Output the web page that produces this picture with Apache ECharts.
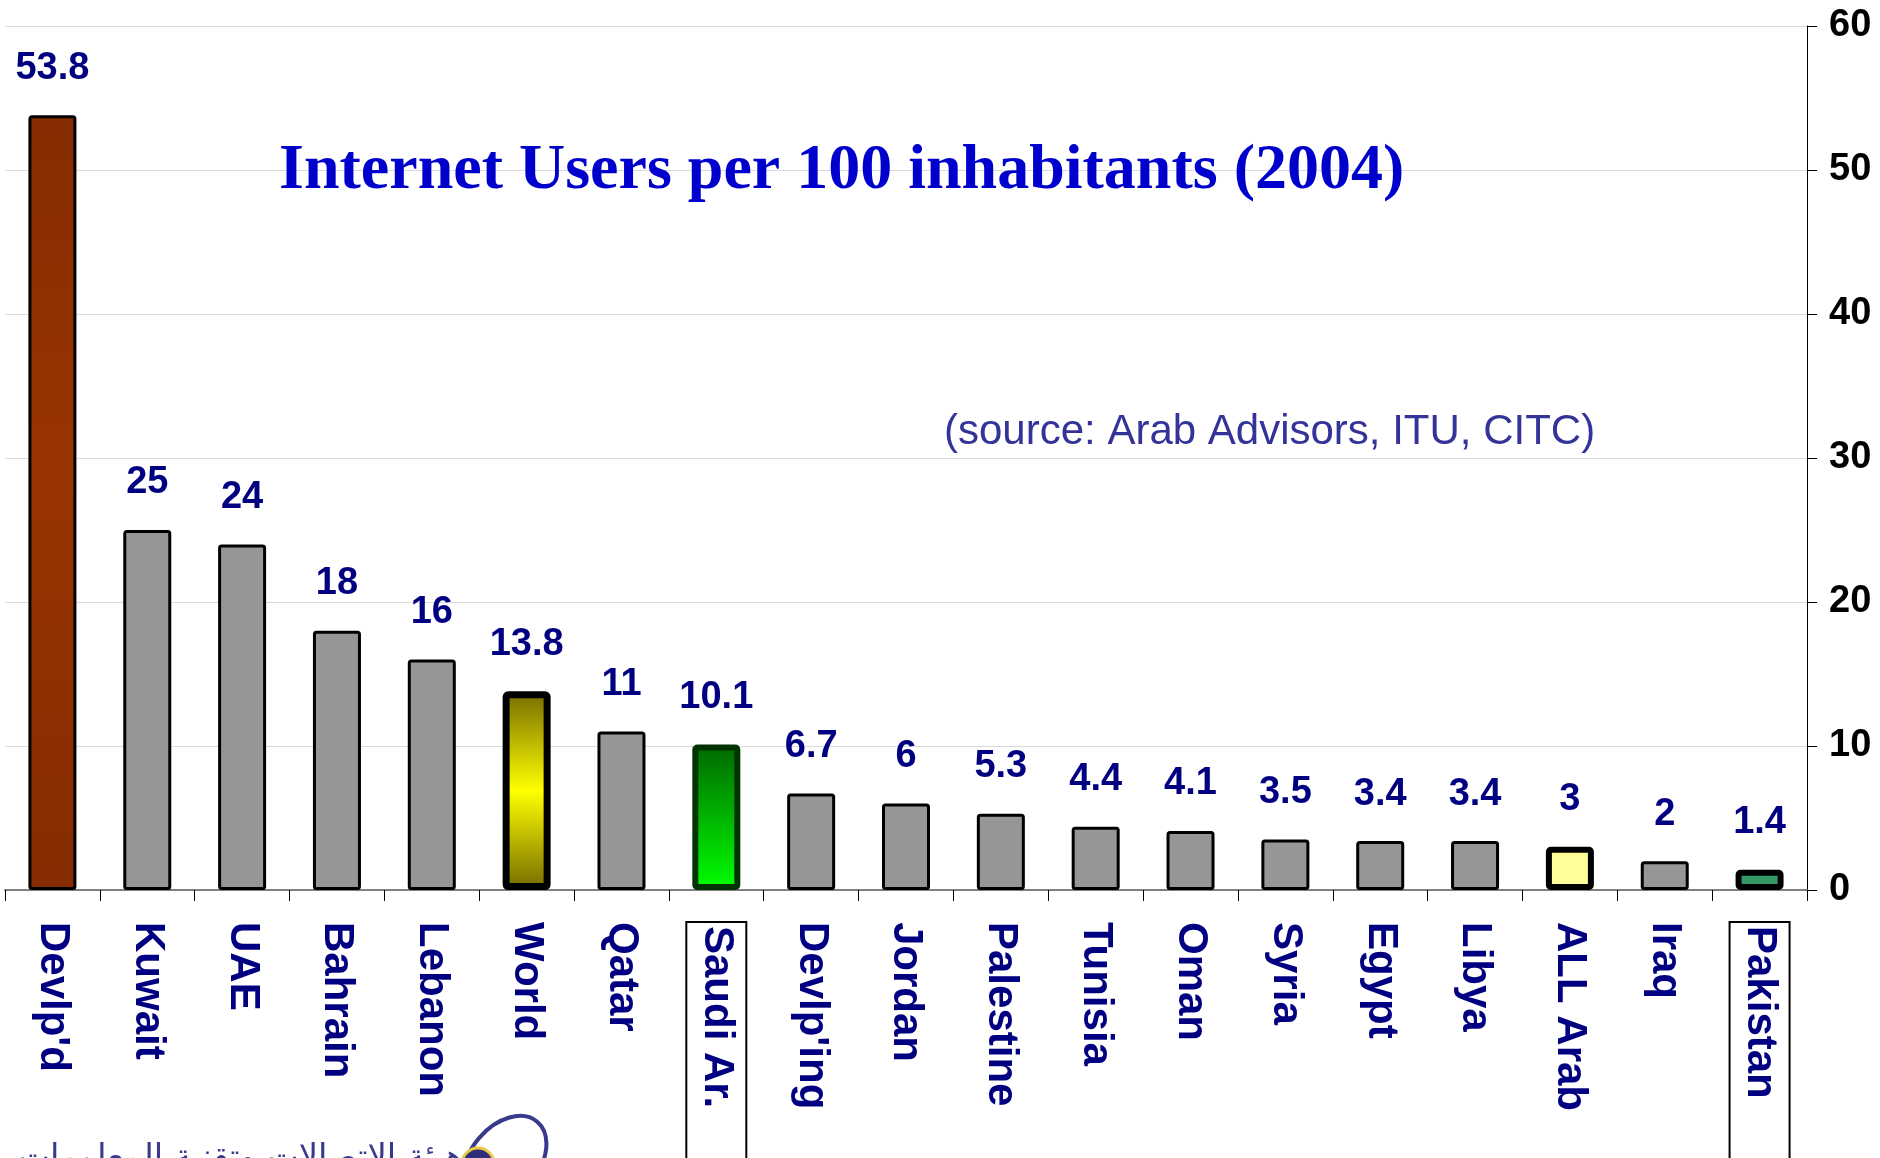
<!DOCTYPE html>
<html>
<head>
<meta charset="utf-8">
<script src="https://cdn.jsdelivr.net/npm/echarts@6/dist/echarts.min.js"></script>
<style>
  html, body { margin: 0; padding: 0; background: #fff; }
  #main { width: 1880px; height: 1158px; }
</style>
</head>
<body>
<div id="main"></div>
<script>
// data
var categories = ["Devlp'd", 'Kuwait', 'UAE', 'Bahrain', 'Lebanon', 'World', 'Qatar', 'Saudi Ar.', "Devlp'ing",
  'Jordan', 'Palestine', 'Tunisia', 'Oman', 'Syria', 'Egypt', 'Libya', 'ALL Arab', 'Iraq', 'Pakistan'];
var values = [53.8, 25, 24, 18, 16, 13.8, 11, 10.1, 6.7, 6, 5.3, 4.4, 4.1, 3.5, 3.4, 3.4, 3, 2, 1.4];
var yTicks = [0, 10, 20, 30, 40, 50, 60];
var boxedLabels = ['Saudi Ar.', 'Pakistan'];

var SANS = "'Liberation Sans', Arial, sans-serif";
var SERIF = "'Liberation Serif', 'Times New Roman', serif";
var NAVY = '#000080';

function grad(stops) {
  return new echarts.graphic.LinearGradient(0, 0, 0, 1, stops.map(function (s) {
    return { offset: s[0], color: s[1] };
  }));
}

// special bars, everything else is plain grey
function styleFor(name) {
  switch (name) {
    case "Devlp'd":
      return { color: grad([[0, '#842c00'], [0.45, '#9a3400'], [1, '#842c00']]), borderColor: '#000', borderWidth: 3 };
    case 'World':
      return { color: grad([[0, '#756b00'], [0.5, '#ffff00'], [1, '#756b00']]), borderColor: '#000', borderWidth: 7 };
    case 'Saudi Ar.':
      return { color: grad([[0, '#006800'], [1, '#00ff00']]), borderColor: '#003300', borderWidth: 6 };
    case 'ALL Arab':
      return { color: '#ffff99', borderColor: '#000', borderWidth: 6 };
    case 'Pakistan':
      return { color: '#339966', borderColor: '#000', borderWidth: 6 };
    default:
      return { color: '#969696', borderColor: '#000', borderWidth: 3 };
  }
}

var barData = values.map(function (v, i) {
  var st = styleFor(categories[i]);
  st.borderRadius = 2;
  return { value: v, itemStyle: st };
});

var chart = echarts.init(document.getElementById('main'));
chart.setOption({
  backgroundColor: '#fff',
  animation: false,
  title: [
    {
      text: 'Internet Users per 100 inhabitants (2004)',
      left: 274, top: 134,
      textStyle: { fontFamily: SERIF, fontSize: 64, fontWeight: 'bold', color: '#0000cc' }
    },
    {
      text: '(source: Arab Advisors, ITU, CITC)',
      left: 939, top: 406,
      textStyle: { fontFamily: SANS, fontSize: 42, fontWeight: 'normal', color: '#333399' }
    }
  ],
  grid: { left: 5, right: 73, top: 26, bottom: 268, containLabel: false, outerBoundsMode: 'none' },
  xAxis: {
    type: 'category',
    data: categories,
    axisLine: { lineStyle: { color: '#808080', width: 2 } },
    axisTick: { show: true, length: 11, lineStyle: { color: '#000', width: 1 } },
    axisLabel: {
      rotate: -90,
      margin: 32,
      interval: 0,
      color: NAVY,
      fontFamily: SANS,
      fontWeight: 'bold',
      fontSize: 42,
      formatter: function (v) {
        return boxedLabels.indexOf(v) >= 0 ? '{box|' + v + '}' : v;
      },
      rich: {
        box: {
          color: NAVY, fontFamily: SANS, fontWeight: 'bold', fontSize: 42,
          borderColor: '#000', borderWidth: 2,
          width: 250, height: 60, padding: [0, 0, 0, 4]
        }
      }
    }
  },
  yAxis: {
    type: 'value',
    position: 'right',
    min: yTicks[0],
    max: yTicks[yTicks.length - 1],
    interval: 10,
    axisLine: { show: true, lineStyle: { color: '#000', width: 1 } },
    axisTick: { show: true, length: 10, lineStyle: { color: '#000' } },
    axisLabel: { margin: 22, color: '#000', fontFamily: SANS, fontWeight: 'bold', fontSize: 38 },
    splitLine: { show: true, lineStyle: { color: '#d9d9d9', width: 1 } }
  },
  series: [{
    type: 'bar',
    data: barData,
    barWidth: 48,
    label: {
      show: true,
      position: 'top',
      distance: 28,
      color: NAVY,
      fontFamily: SANS,
      fontWeight: 'bold',
      fontSize: 38
    }
  }],
  // CITC logo peeking in at the bottom left
  graphic: [
    {
      type: 'text', left: 18, top: 1142,
      style: { text: 'هيئة الاتصالات وتقنية المعلومات', font: '34px DejaVu Sans, sans-serif', fill: '#3a3a8c' }
    },
    {
      type: 'ellipse', shape: { cx: 505, cy: 1160, rx: 34, ry: 50 },
      rotation: -0.7, originX: 505, originY: 1160,
      style: { fill: 'none', stroke: '#3a3a8c', lineWidth: 4 }
    },
    {
      type: 'circle', shape: { cx: 478, cy: 1164, r: 16 },
      style: { fill: '#2e2e7a', stroke: '#e8c840', lineWidth: 3 }
    }
  ]
});
</script>
</body>
</html>
